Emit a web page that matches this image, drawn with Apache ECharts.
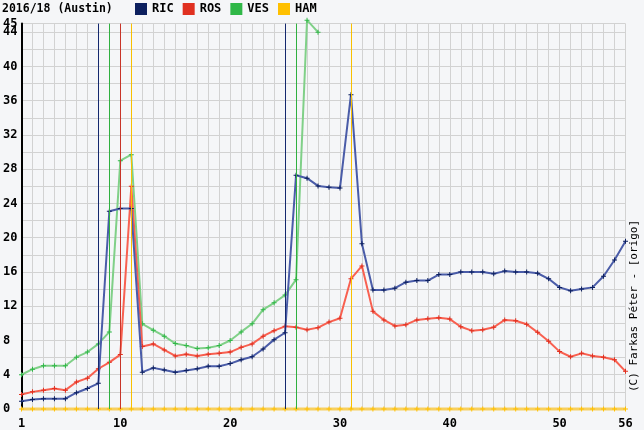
<!DOCTYPE html>
<html><head><meta charset="utf-8">
<script src="https://cdn.jsdelivr.net/npm/echarts@6/dist/echarts.min.js"></script>
<style>html,body{margin:0;padding:0;background:#f5f6f8}#c{width:644px;height:430px}</style>
</head><body><div id="c"></div>
<script>
const laps = [1,2,3,4,5,6,7,8,9,10,11,12,13,14,15,16,17,18,19,20,21,22,23,24,25,26,27,28,29,30,31,32,33,34,35,36,37,38,39,40,41,42,43,44,45,46,47,48,49,50,51,52,53,54,55,56];
const xLabels = [1,10,20,30,40,50,56];
const yLabels = [0,4,8,12,16,20,24,28,32,36,40,44];
const yTopLabel = 45;
const names = ['RIC','ROS','VES','HAM'];
const RIC = [0.9,1.1,1.2,1.2,1.2,1.9,2.4,3.0,23.1,23.4,23.4,4.3,4.8,4.55,4.3,4.5,4.7,5.0,5.0,5.3,5.75,6.1,7.0,8.1,8.9,27.3,26.95,26.05,25.9,25.8,36.7,19.3,13.9,13.9,14.1,14.8,15.0,15.0,15.7,15.7,16.0,16.0,16.0,15.8,16.1,16.0,16.0,15.85,15.2,14.2,13.8,14.0,14.2,15.5,17.4,19.6];
const ROS = [1.7,2.0,2.2,2.4,2.2,3.15,3.6,4.7,5.45,6.35,26.0,7.3,7.6,6.9,6.2,6.4,6.2,6.4,6.5,6.65,7.2,7.6,8.5,9.15,9.65,9.55,9.25,9.5,10.15,10.6,15.2,16.7,11.4,10.4,9.7,9.85,10.4,10.55,10.65,10.5,9.6,9.15,9.25,9.55,10.4,10.3,9.9,8.95,7.9,6.7,6.1,6.5,6.2,6.05,5.75,4.4];
const VES = [4.0,4.65,5.05,5.05,5.05,6.05,6.65,7.6,9.0,29.0,29.7,9.95,9.2,8.5,7.65,7.4,7.05,7.15,7.4,8.0,9.0,9.95,11.6,12.4,13.3,15.1,45.4,44.0];
const HAM = [0,0,0,0,0,0,0,0,0,0,0,0,0,0,0,0,0,0,0,0,0,0,0,0,0,0,0,0,0,0,0,0,0,0,0,0,0,0,0,0,0,0,0,0,0,0,0,0,0,0,0,0,0,0,0,0];
const pitRIC = [8,25];
const pitROS = [10];
const pitVES = [9,26];
const pitHAM = [11,31];

const FONT = '"DejaVu Sans Mono", "Liberation Mono", monospace';
const plus = 'path://M0,2H2V0H3V2H5V3H3V5H2V3H0Z';
function mk(name, vals, mColor, lColor, lw, clip, z) {
  return {
    name: name, type: 'line', clip: clip, z: z,
    data: vals.map((v,i)=>[laps[i], v]),
    symbol: plus, symbolSize: 5, showSymbol: true, showAllSymbol: true,
    itemStyle: {color: mColor},
    lineStyle: {color: lColor, width: lw},
    emphasis: {disabled: true}
  };
}
function pits(list, color) {
  return list.map(p => ({xAxis: p, lineStyle: {color: color, width: 1, type: 'solid'}}));
}
const pitSeries = {
  name: 'pits', type: 'line', data: [], z: 20, silent: true,
  markLine: {
    silent: true, symbol: 'none', label: {show: false}, animation: false, z: 30,
    data: [].concat(pits(pitRIC, '#14286e'), pits(pitVES, '#30b040'), pits(pitROS, '#c83428'), pits(pitHAM, '#f8c000'))
  }
};
const axisFont = {fontFamily: FONT, fontWeight: 'bold', fontSize: 12, color: '#000'};
const chart = echarts.init(document.getElementById('c'), null, {renderer: 'canvas'});
chart.setOption({
  animation: false,
  backgroundColor: '#f5f6f8',
  title: {text: '2016/18 (Austin)', left: 2, top: 3, padding: 0,
    textStyle: {fontFamily: FONT, fontWeight: 'bold', fontSize: 11.5, color: '#000'}},
  legend: {data: names, left: 135, top: 3, padding: 0, icon: 'rect', itemWidth: 12, itemHeight: 12, itemGap: 9,
    textStyle: {fontFamily: FONT, fontWeight: 'bold', fontSize: 12, color: '#000'}},
  grid: {left: 20.5, right: 18.5, top: 23.6, bottom: 20.7, containLabel: false},
  xAxis: {type: 'value', min: 1, max: 56, interval: 1,
    axisLine: {show: false}, axisTick: {show: false},
    splitLine: {show: true, lineStyle: {color: '#d2d2d2', width: 1}},
    axisLabel: Object.assign({margin: 9, formatter: v => xLabels.indexOf(v) >= 0 ? String(v) : ''}, axisFont)},
  yAxis: [
    {type: 'value', min: 0, max: 45, interval: 2,
      axisLine: {show: true, lineStyle: {color: '#000', width: 2}}, axisTick: {show: false},
      splitLine: {show: true, lineStyle: {color: '#d2d2d2', width: 1}},
      axisLabel: Object.assign({align: 'left', margin: 18.5, showMaxLabel: false,
        formatter: v => yLabels.indexOf(v) >= 0 ? String(v) : ''}, axisFont)},
    {type: 'value', position: 'left', min: 0, max: 45, interval: 45,
      axisLine: {show: false}, axisTick: {show: false}, splitLine: {show: false},
      axisLabel: Object.assign({align: 'left', margin: 18.5, showMinLabel: false, showMaxLabel: true,
        formatter: v => v === yTopLabel ? String(v) : ''}, axisFont)}
  ],
  graphic: [{type: 'text', x: 634, y: 306, rotation: Math.PI/2,
    style: {text: '(C) Farkas Péter - [origo]', font: '11px ' + FONT, fill: '#000', align: 'center', verticalAlign: 'middle'}}],
  series: [
    mk('RIC', RIC, '#0c1f5e', '#4a5ca8', 2, true, 4),
    mk('ROS', ROS, '#e03020', '#f86050', 2, true, 3),
    mk('VES', VES, '#30b848', '#80d088', 2, false, 2),
    mk('HAM', HAM, '#ffc000', '#f8d060', 3, false, 5),
    pitSeries
  ]
});
</script></body></html>
